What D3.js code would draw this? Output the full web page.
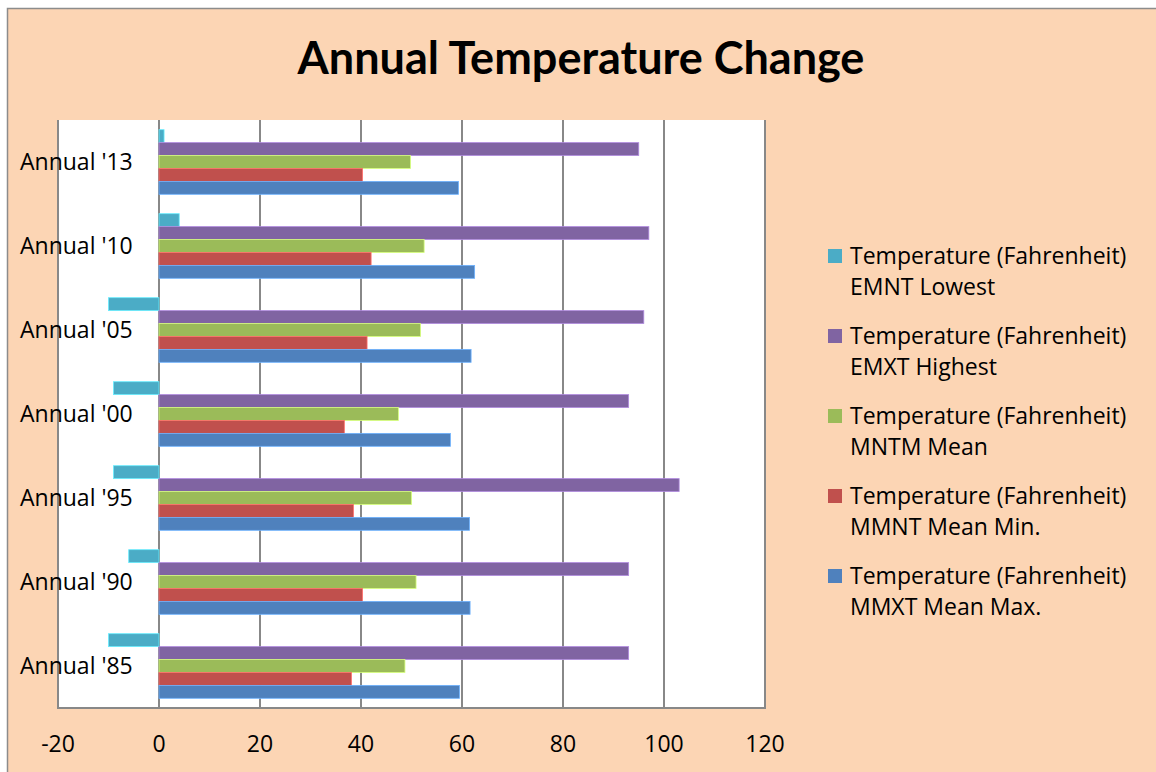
<!DOCTYPE html>
<html>
<head>
<meta charset="utf-8">
<script src="https://cdn.jsdelivr.net/npm/d3@7"></script>
<style>
  body { margin: 0; background: #fff; }
  text { font-family: "Open Sans", Lato, sans-serif; fill: #000; }
  .title { font-family: Lato, "Open Sans", sans-serif; }
</style>
</head>
<body>
<div id="chart"></div>
<script>
// categories, top to bottom as drawn
let categories = ["Annual '13", "Annual '10", "Annual '05", "Annual '00", "Annual '95", "Annual '90", "Annual '85"];

// series values, same order as categories (degrees Fahrenheit)
let emntLowest  = [1, 4, -10, -9, -9, -6, -10];
let emxtHighest = [95, 97, 96, 93, 103, 93, 93];
let mntmMean    = [49.8, 52.5, 51.8, 47.4, 50.0, 50.9, 48.7];
let mmntMeanMin = [40.3, 42.0, 41.2, 36.7, 38.5, 40.3, 38.1];
let mmxtMeanMax = [59.3, 62.5, 61.8, 57.7, 61.5, 61.6, 59.5];

let seriesKeys = ['emnt', 'emxt', 'mntm', 'mmnt', 'mmxt'];
let seriesLabels = {
	'emnt': ['Temperature (Fahrenheit)', 'EMNT Lowest'],
	'emxt': ['Temperature (Fahrenheit)', 'EMXT Highest'],
	'mntm': ['Temperature (Fahrenheit)', 'MNTM Mean'],
	'mmnt': ['Temperature (Fahrenheit)', 'MMNT Mean Min.'],
	'mmxt': ['Temperature (Fahrenheit)', 'MMXT Mean Max.']
};
let seriesValues = {
	'emnt': emntLowest,
	'emxt': emxtHighest,
	'mntm': mntmMean,
	'mmnt': mmntMeanMin,
	'mmxt': mmxtMeanMax
};

let xTicks = [-20, 0, 20, 40, 60, 80, 100, 120];

let width = 1156;
let height = 772;
let plot = {left: 58, right: 765, top: 120, bottom: 708};

let colorScale = d3.scaleOrdinal()
		.domain(seriesKeys)
		.range(['#4BACC6', '#8064A2', '#9BBB59', '#C0504D', '#4F81BD']);

let xScale = d3.scaleLinear()
		.domain([-20, 120])
		.range([plot.left, plot.right]);

let yScale = d3.scaleBand()
		.domain(categories)
		.range([plot.top, plot.bottom]);

// bars inside each category, Excel-like gap of 150%
let innerScale = d3.scaleBand()
		.domain(seriesKeys)
		.range([0, yScale.bandwidth()])
		.paddingInner(0)
		.paddingOuter(0.75);

// flatten to one row per bar
let rows = [];
categories.forEach((cat, i) => {
	seriesKeys.forEach(key => {
		rows.push({category: cat, key: key, value: seriesValues[key][i]});
	});
});

let svg = d3.select('#chart')
		.append('svg')
		.attr('width', width)
		.attr('height', height);

// chart background and border
svg.append('rect')
		.attr('x', 7.5)
		.attr('y', 8.5)
		.attr('width', width + 10)
		.attr('height', height + 10)
		.attr('fill', '#FCD5B4')
		.attr('stroke', '#8c8c8c')
		.attr('stroke-width', 1.5);

// plot area
svg.append('rect')
		.attr('x', plot.left)
		.attr('y', plot.top)
		.attr('width', plot.right - plot.left)
		.attr('height', plot.bottom - plot.top)
		.attr('fill', '#fff');

// vertical gridlines
svg.append('g').selectAll('.grid')
		.data(xTicks)
		.enter()
		.append('line')
		.classed('grid', true)
		.attr('x1', d => xScale(d))
		.attr('x2', d => xScale(d))
		.attr('y1', plot.top)
		.attr('y2', plot.bottom)
		.attr('stroke', '#888')
		.attr('stroke-width', 2);

// bottom axis line
svg.append('line')
		.attr('x1', plot.left - 1)
		.attr('x2', plot.right + 1)
		.attr('y1', plot.bottom)
		.attr('y2', plot.bottom)
		.attr('stroke', '#888')
		.attr('stroke-width', 2);

// bars
svg.append('g').selectAll('.bar')
		.data(rows)
		.enter()
		.append('rect')
		.classed('bar', true)
		.attr('x', d => Math.min(xScale(0), xScale(d.value)))
		.attr('width', d => Math.abs(xScale(d.value) - xScale(0)))
		.attr('y', d => yScale(d.category) + innerScale(d.key))
		.attr('height', innerScale.bandwidth())
		.attr('fill', d => colorScale(d.key))
		.attr('stroke', d => d3.color(colorScale(d.key)).brighter(0.9))
		.attr('stroke-width', 0.8);

// x tick labels
svg.append('g').selectAll('.tick-label')
		.data(xTicks)
		.enter()
		.append('text')
		.classed('tick-label', true)
		.attr('x', d => xScale(d))
		.attr('y', 752)
		.attr('text-anchor', 'middle')
		.style('font-size', '23px')
		.text(d => d);

// category labels
svg.append('g').selectAll('.cat-label')
		.data(categories)
		.enter()
		.append('text')
		.classed('cat-label', true)
		.attr('x', 20)
		.attr('y', d => yScale(d) + yScale.bandwidth() / 2 + 8)
		.style('font-size', '23px')
		.text(d => d);

// title
svg.append('text')
		.classed('title', true)
		.attr('x', 581)
		.attr('y', 74)
		.attr('text-anchor', 'middle')
		.style('font-size', '45px')
		.style('font-weight', 'bold')
		.text('Annual Temperature Change');

// legend
let legend = svg.append('g').selectAll('.legend')
		.data(seriesKeys)
		.enter()
		.append('g')
		.classed('legend', true)
		.attr('transform', (d, i) => 'translate(828,' + (249 + i * 80) + ')');

legend.append('rect')
		.attr('width', 14)
		.attr('height', 14)
		.attr('fill', d => colorScale(d));

legend.append('text')
		.attr('x', 22)
		.attr('y', 15)
		.style('font-size', '23px')
		.text(d => seriesLabels[d][0]);

legend.append('text')
		.attr('x', 22)
		.attr('y', 46)
		.style('font-size', '23px')
		.text(d => seriesLabels[d][1]);
</script>
</body>
</html>
